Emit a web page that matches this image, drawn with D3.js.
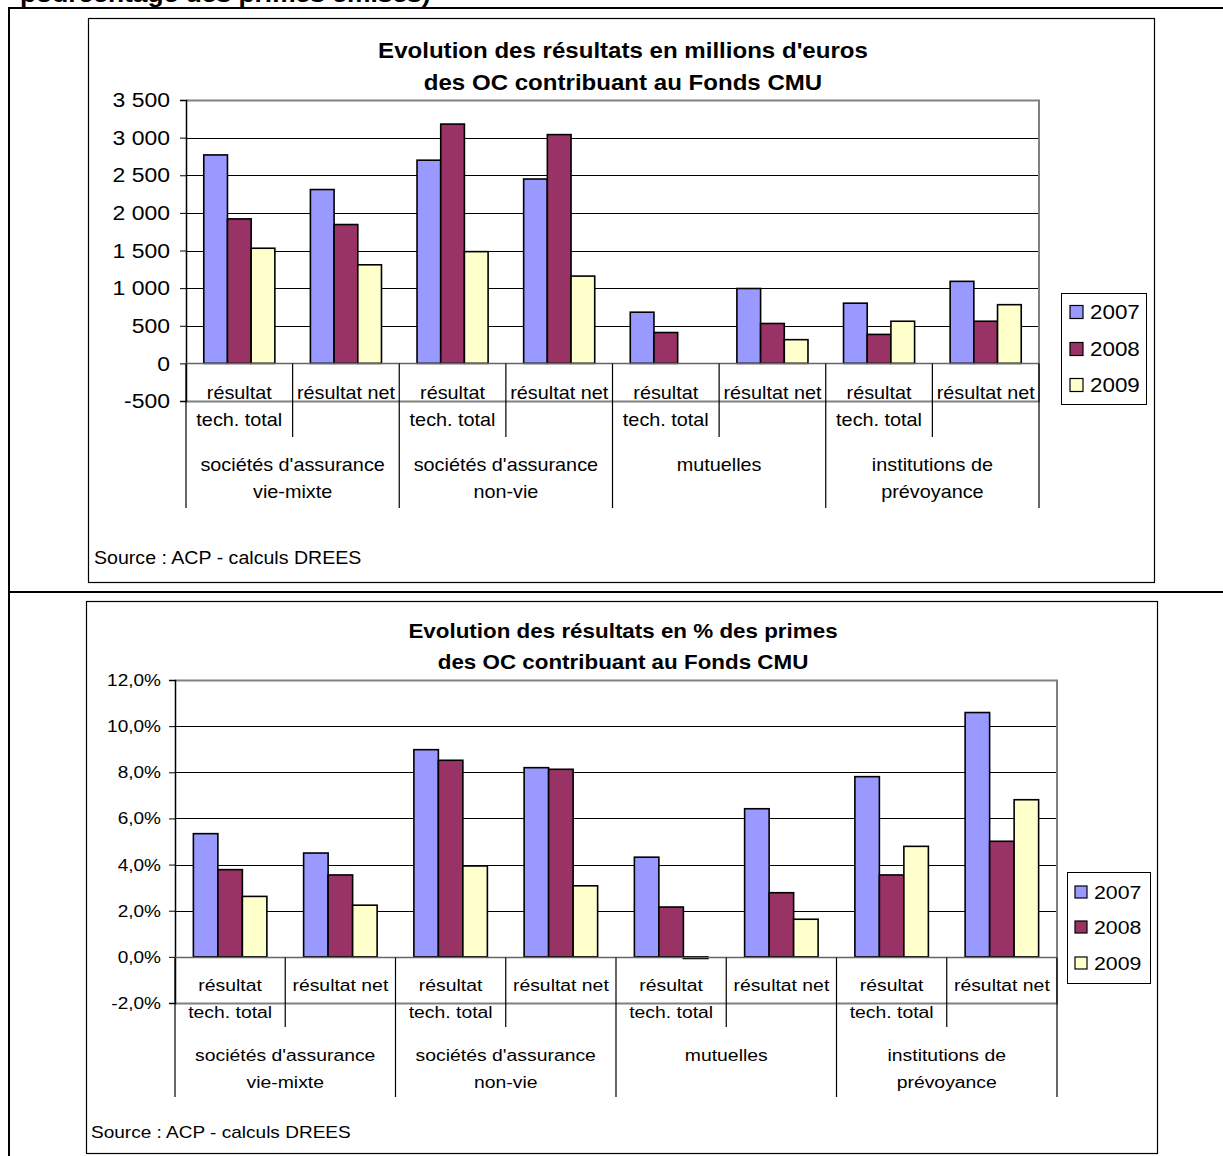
<!DOCTYPE html>
<html>
<head>
<meta charset="utf-8">
<script src="https://cdn.jsdelivr.net/npm/d3@7"></script>
<style>
  body { margin: 0; background: #fff; }
  svg { display: block; font-family: Arial, "Liberation Sans", sans-serif; }
</style>
</head>
<body>
<svg id="page" width="1223" height="1156"></svg>
<script>
// series and categories
const years = ["2007", "2008", "2009"];
const colors = ["#9999ff", "#993366", "#ffffcc"];
const groupLabels = [
  ["sociétés d'assurance", "vie-mixte"],
  ["sociétés d'assurance", "non-vie"],
  ["mutuelles"],
  ["institutions de", "prévoyance"]
];
const subLabels = [["résultat", "tech. total"], ["résultat net"]];

// résultats en millions d'euros
const millions2007 = [2770, 2310, 2700, 2450, 680, 995, 800, 1090];
const millions2008 = [1920, 1845, 3180, 3040, 410, 530, 385, 560];
const millions2009 = [1530, 1310, 1485, 1160, 0, 315, 560, 780];
const millionsTicks = [-500, 0, 500, 1000, 1500, 2000, 2500, 3000, 3500];

// résultats en % des primes
const pct2007 = [5.34, 4.50, 8.98, 8.20, 4.32, 6.42, 7.81, 10.59];
const pct2008 = [3.78, 3.55, 8.52, 8.13, 2.16, 2.78, 3.55, 5.01];
const pct2009 = [2.62, 2.24, 3.94, 3.08, -0.07, 1.63, 4.79, 6.81];
const pctTicks = [-2, 0, 2, 4, 6, 8, 10, 12];

const fr = d3.formatLocale({decimal: ",", thousands: "\u00a0", grouping: [3], currency: ["", " €"], minus: "-"});
const fmtMillions = fr.format(",.0f");
const fmtPct = v => fr.format(".1%")(v / 100);

const SX = 1.12; // horizontal stretch of the pasted chart text

const svg = d3.select("#page");

function addText(g, x, y, str, size, anchor, weight) {
  return g.append("text")
    .attr("transform", `translate(${x},${y}) scale(${SX},1)`)
    .attr("text-anchor", anchor || "start")
    .attr("dy", "0.35em")
    .style("font-size", size + "px")
    .style("font-weight", weight || "normal")
    .attr("fill", "#000")
    .text(str);
}

// page frame (table borders)
svg.append("line").attr("x1", 8).attr("x2", 1223).attr("y1", 8).attr("y2", 8).attr("stroke", "#000").attr("stroke-width", 2);
svg.append("line").attr("x1", 9).attr("x2", 9).attr("y1", 8).attr("y2", 1156).attr("stroke", "#000").attr("stroke-width", 2);
svg.append("line").attr("x1", 8).attr("x2", 1223).attr("y1", 592).attr("y2", 592).attr("stroke", "#000").attr("stroke-width", 2);
svg.append("text")
  .attr("transform", `translate(20,2) scale(1.2,1)`)
  .style("font-size", "22px").style("font-weight", "bold")
  .text("pourcentage des primes émises)");

function drawChart(o) {
  const g = svg.append("g");
  const cats = d3.range(o.values[0].length);

  g.append("rect")
    .attr("x", o.box[0] + 0.5).attr("y", o.box[1] + 0.5)
    .attr("width", o.box[2] - o.box[0]).attr("height", o.box[3] - o.box[1])
    .attr("fill", "#fff").attr("stroke", "#000").attr("stroke-width", 1.2);

  o.title.forEach((t, i) => addText(g, o.titleX, o.titleY[i], t, o.titleSize, "middle", "bold"));

  const x = d3.scaleBand().domain(cats).range([o.plot[0], o.plot[2]]).padding(0);
  const xs = d3.scaleBand().domain(years).range([0, x.bandwidth()]).paddingInner(0).paddingOuter(0.75);
  const y = d3.scaleLinear().domain(o.domain).range([o.plot[3], o.plot[1]]);

  // gridlines
  g.append("g").selectAll("line").data(o.ticks.filter(t => t !== 0 && t !== o.domain[0] && t !== o.domain[1]))
    .join("line")
    .attr("x1", o.plot[0]).attr("x2", o.plot[2])
    .attr("y1", d => Math.round(y(d)) + 0.5).attr("y2", d => Math.round(y(d)) + 0.5)
    .attr("stroke", "#000").attr("stroke-width", 1);

  // plot area border (top, right, bottom)
  const pTop = Math.round(y(o.domain[1])) + 0.5, pBot = Math.round(y(o.domain[0])) + 0.5;
  g.append("path")
    .attr("d", `M${o.plot[0]},${pTop}H${o.plot[2]}V${pBot}H${o.plot[0]}`)
    .attr("fill", "none").attr("stroke", "#808080").attr("stroke-width", 2);

  // bars (a zero value draws nothing)
  years.forEach((yr, si) => {
    g.append("g").selectAll("rect").data(o.values[si])
      .join("rect")
      .attr("display", d => d === 0 ? "none" : null)
      .attr("x", (d, i) => x(i) + xs(yr))
      .attr("y", d => y(Math.max(0, d)))
      .attr("width", xs.bandwidth())
      .attr("height", d => Math.max(1, Math.abs(y(d) - y(0))))
      .attr("fill", colors[si]).attr("stroke", "#000").attr("stroke-width", 1.6);
  });

  // value axis
  const yAxis = d3.axisLeft(y).tickValues(o.ticks).tickSize(6).tickFormat("");
  const ya = g.append("g").attr("transform", `translate(${o.plot[0]},0)`).call(yAxis);
  ya.select(".domain").attr("stroke", "#000").attr("stroke-width", 1.5);
  ya.selectAll(".tick line").attr("stroke", "#000");
  o.ticks.forEach(t => addText(g, o.tickX, y(t), o.fmt(t), o.tickSize, "end"));

  // category axis at zero
  const y0 = Math.round(y(0)) + 0.5;
  g.append("line").attr("x1", o.plot[0]).attr("x2", o.plot[2]).attr("y1", y0).attr("y2", y0)
    .attr("stroke", "#666").attr("stroke-width", 1.5);

  // separators
  cats.concat([cats.length]).forEach(i => {
    const xx = i < cats.length ? x(i) : o.plot[2];
    const len = i % 2 === 0 ? o.longSep : o.shortSep;
    g.append("line").attr("x1", xx).attr("x2", xx).attr("y1", y0).attr("y2", len)
      .attr("stroke", "#000").attr("stroke-width", 1.2);
  });

  // category labels
  cats.forEach(i => {
    const cx = x(i) + x.bandwidth() / 2;
    subLabels[i % 2].forEach((s, k) => addText(g, cx, o.subY[k], s, o.catSize, "middle"));
  });
  groupLabels.forEach((lines, gi) => {
    const cx = x(gi * 2) + x.bandwidth();
    lines.forEach((s, k) => addText(g, cx, o.groupY[k], s, o.catSize, "middle"));
  });

  // legend
  const L = o.legend;
  g.append("rect").attr("x", L.box[0] + 0.5).attr("y", L.box[1] + 0.5)
    .attr("width", L.box[2] - L.box[0]).attr("height", L.box[3] - L.box[1])
    .attr("fill", "#fff").attr("stroke", "#000").attr("stroke-width", 1);
  years.forEach((yr, si) => {
    const cy = L.rows[si];
    g.append("rect").attr("x", L.swX).attr("y", cy - L.sw / 2).attr("width", L.sw).attr("height", L.sw)
      .attr("fill", colors[si]).attr("stroke", "#000").attr("stroke-width", 1.2);
    addText(g, L.textX, cy, yr, L.size, "start");
  });

  addText(g, o.sourceX, o.sourceY, "Source : ACP - calculs DREES", o.sourceSize, "start");
}

drawChart({
  box: [88, 18, 1154, 582],
  title: ["Evolution des résultats en millions d'euros", "des OC contribuant au Fonds CMU"],
  titleX: 623, titleY: [50, 82], titleSize: 21.5,
  plot: [186, 100, 1039, 401],
  domain: [-500, 3500], ticks: millionsTicks, fmt: fmtMillions,
  tickX: 170, tickSize: 20.5,
  values: [millions2007, millions2008, millions2009],
  shortSep: 437, longSep: 508,
  subY: [393, 420], groupY: [465, 492], catSize: 17.7,
  legend: {box: [1061, 293, 1146, 404], rows: [312, 349, 385], swX: 1070, sw: 13, textX: 1090, size: 20},
  sourceX: 94, sourceY: 558, sourceSize: 17.5
});

drawChart({
  box: [86, 601, 1157, 1153],
  title: ["Evolution des résultats en % des primes", "des OC contribuant au Fonds CMU"],
  titleX: 623, titleY: [631, 662], titleSize: 20,
  plot: [175, 680, 1057, 1003],
  domain: [-2, 12], ticks: pctTicks, fmt: fmtPct,
  tickX: 161, tickSize: 17,
  values: [pct2007, pct2008, pct2009],
  shortSep: 1027, longSep: 1097,
  subY: [985, 1012], groupY: [1055, 1082], catSize: 17.3,
  legend: {box: [1067, 872, 1150, 983], rows: [892, 927, 963], swX: 1075, sw: 12, textX: 1094, size: 19},
  sourceX: 91, sourceY: 1132, sourceSize: 17
});
</script>
</body>
</html>
